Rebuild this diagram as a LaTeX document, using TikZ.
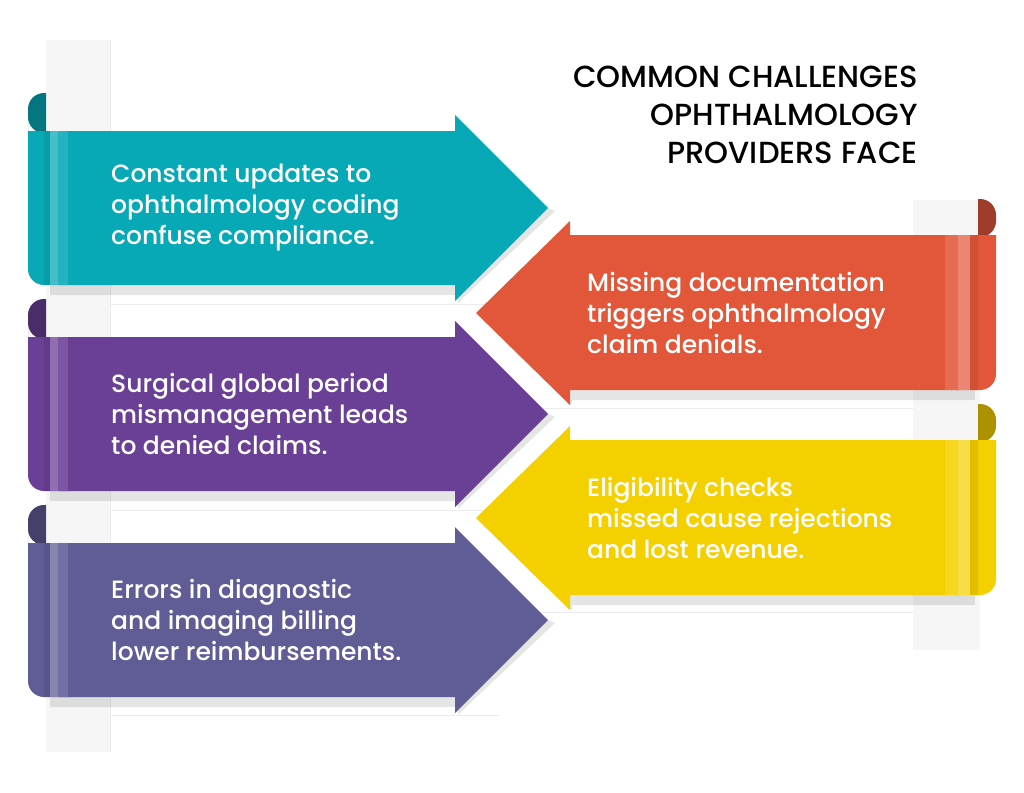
\documentclass[tikz,border=0pt]{standalone}
\usepackage{fontspec}
\setmainfont{Poppins Medium}
\definecolor{cteal}{HTML}{07A9B7}
\definecolor{cred}{HTML}{E2573A}
\definecolor{cpurp}{HTML}{6A3F96}
\definecolor{cyel}{HTML}{F5D000}
\definecolor{cslate}{HTML}{5F5C96}
\tikzset{
  txt/.style={text=white,align=left,font=\fontsize{25}{31}\selectfont,inner sep=0pt},
  ttl/.style={align=right,font=\fontsize{30.5}{38}\selectfont,inner sep=0pt},
  shdw/.style={fill=black,opacity=.10}
}
\newcommand{\leftarr}[4]{% top, color, name, text
  \fill[#2!70!black] (46,#1+2) -- (46,#1-38) {[rounded corners=16] -- (28,#1-38) -- (28,#1+2)} -- cycle;
  \fill[shdw] (50,#1+154) -- (458,#1+154) -- (458,#1+172) -- (465,#1+165) -- (555,#1+80) -- (548,#1+77) -- (455,#1+170) -- (455,#1+164) -- (50,#1+164) -- cycle;
  \fill[#2] (46,#1) -- (455,#1) -- (455,#1-16) -- (548,#1+77) -- (455,#1+170) -- (455,#1+154) -- (60,#1+154) -- (60,#1) -- cycle;
  \fill[#2] (28,#1) -- (70,#1) -- (70,#1+154) {[rounded corners=16] -- (28,#1+154) -- (28,#1)} -- cycle;
  \fill[#2!92!black] (44,#1) rectangle (50,#1+154);
  \fill[#2!75!white] (50,#1) rectangle (58,#1+154);
  \fill[#2!88!white] (58,#1) rectangle (68,#1+154);
  \node[txt,anchor=west] (#3) at (111,#1+77) {#4};
}
\newcommand{\rightarr}[4]{%
  \fill[#2!70!black] (978,#1+2) -- (978,#1-36) {[rounded corners=16] -- (996,#1-36) -- (996,#1+2)} -- cycle;
  \fill[shdw] (480,#1+82) -- (572,#1+170) -- (572,#1+165) -- (975,#1+165) -- (975,#1+155) -- (570,#1+155) -- (570,#1+170) -- (476,#1+78) -- cycle;
  \fill[#2] (960,#1) -- (570,#1) -- (570,#1-14) -- (476,#1+78) -- (570,#1+170) -- (570,#1+155) -- (960,#1+155) -- cycle;
  \fill[#2] (940,#1) -- (996,#1) {[rounded corners=16] -- (996,#1+155) -- (940,#1+155)} -- cycle;
  \fill[#2!88!white] (945,#1) rectangle (958,#1+155);
  \fill[#2!72!white] (958,#1) rectangle (970,#1+155);
  \fill[#2!92!black] (970,#1) rectangle (978,#1+155);
  \node[txt,anchor=west] (#3) at (587,#1+78) {#4};
}
\begin{document}
\begin{tikzpicture}[x=1pt,y=-1pt]
\useasboundingbox (0,0) rectangle (1024,792);
\fill[white] (0,0) rectangle (1024,792);
\fill[gray!7] (46,40) rectangle (110,752);
\draw[gray!15] (110,40) -- (110,752);
\fill[gray!7] (913,200) rectangle (980,650);
\foreach \y in {304,510,715} \draw[gray!15] (110,\y) -- (500,\y);
\foreach \y in {408,612} \draw[gray!15] (520,\y) -- (913,\y);
\node[ttl,anchor=north east] (title) at (918,66) {COMMON CHALLENGES\\OPHTHALMOLOGY\\PROVIDERS FACE};
\rightarr{440}{cyel}{t5}{Eligibility checks\\missed cause rejections\\and lost revenue.}
\leftarr{543}{cslate}{t3}{Errors in diagnostic\\and imaging billing\\lower reimbursements.}
\rightarr{235}{cred}{t4}{Missing documentation\\triggers ophthalmology\\claim denials.}
\leftarr{337}{cpurp}{t2}{Surgical global period\\mismanagement leads\\to denied claims.}
\leftarr{131}{cteal}{t1}{Constant updates to\\ophthalmology coding\\confuse compliance.}
\end{tikzpicture}
\end{document}
